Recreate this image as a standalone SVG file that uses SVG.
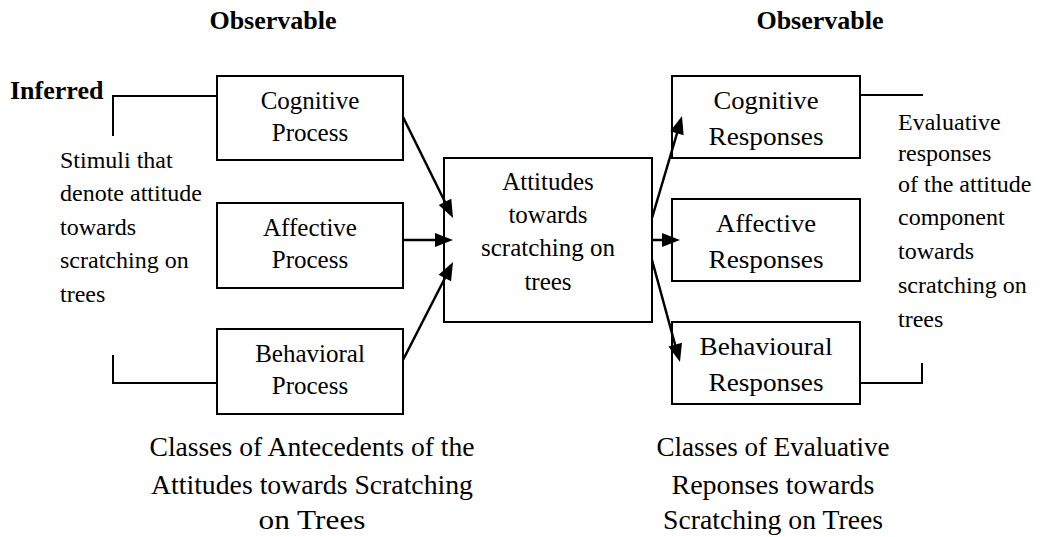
<svg xmlns="http://www.w3.org/2000/svg" width="1041" height="537" viewBox="0 0 1041 537">
<defs>
<style>
text{font-family:"Liberation Serif","Times New Roman",serif;fill:#000}
.b{font-weight:bold;font-size:26px}
.t{font-size:25px;text-anchor:middle}
.s{font-size:24px}
.c{font-size:27px;text-anchor:middle}
.box{fill:#fff;stroke:#000;stroke-width:2}
.ln{fill:none;stroke:#000;stroke-width:2}
.ar{fill:none;stroke:#000;stroke-width:2.5}
.hd{fill:#000;stroke:none}
</style>
</defs>
<rect x="0" y="0" width="1041" height="537" fill="#fff"/>

<text class="b" x="273" y="29" text-anchor="middle">Observable</text>
<text class="b" x="820" y="29" text-anchor="middle">Observable</text>
<text class="b" x="10" y="99">Inferred</text>

<g id="stimuli">
<text class="s" x="60" y="168">Stimuli that</text>
<text class="s" x="60" y="201">denote attitude</text>
<text class="s" x="60" y="235">towards</text>
<text class="s" x="60" y="268">scratching on</text>
<text class="s" x="60" y="302">trees</text>
</g>

<g id="cognitive-process">
<rect class="box" x="217" y="76" width="186" height="84"/>
<text class="t" x="310" y="109">Cognitive</text>
<text class="t" x="310" y="141">Process</text>
</g>
<g id="affective-process">
<rect class="box" x="217" y="203" width="186" height="85"/>
<text class="t" x="310" y="236">Affective</text>
<text class="t" x="310" y="268">Process</text>
</g>
<g id="behavioral-process">
<rect class="box" x="217" y="329" width="186" height="85"/>
<text class="t" x="310" y="362">Behavioral</text>
<text class="t" x="310" y="394">Process</text>
</g>

<g id="attitudes">
<rect class="box" x="444" y="158" width="208" height="164"/>
<text class="t" x="548" y="190">Attitudes</text>
<text class="t" x="548" y="223">towards</text>
<text class="t" x="548" y="256">scratching on</text>
<text class="t" x="548" y="290">trees</text>
</g>

<g id="cognitive-responses">
<rect class="box" x="672" y="76" width="188" height="82"/>
<text class="t" x="766" y="109" textLength="105" lengthAdjust="spacingAndGlyphs">Cognitive</text>
<text class="t" x="766" y="145" textLength="115" lengthAdjust="spacingAndGlyphs">Responses</text>
</g>
<g id="affective-responses">
<rect class="box" x="672" y="199" width="188" height="82"/>
<text class="t" x="766" y="232" textLength="100" lengthAdjust="spacingAndGlyphs">Affective</text>
<text class="t" x="766" y="268" textLength="115" lengthAdjust="spacingAndGlyphs">Responses</text>
</g>
<g id="behavioural-responses">
<rect class="box" x="672" y="322" width="188" height="82"/>
<text class="t" x="766" y="355" textLength="133" lengthAdjust="spacingAndGlyphs">Behavioural</text>
<text class="t" x="766" y="391" textLength="115" lengthAdjust="spacingAndGlyphs">Responses</text>
</g>

<g id="evaluative">
<text class="s" x="898" y="130">Evaluative</text>
<text class="s" x="898" y="161">responses</text>
<text class="s" x="898" y="192">of the attitude</text>
<text class="s" x="898" y="225">component</text>
<text class="s" x="898" y="259">towards</text>
<text class="s" x="898" y="293">scratching on</text>
<text class="s" x="898" y="327">trees</text>
</g>

<g id="antecedents-caption">
<text class="c" x="312" y="456" textLength="325" lengthAdjust="spacingAndGlyphs">Classes of Antecedents of the</text>
<text class="c" x="312" y="494" textLength="322" lengthAdjust="spacingAndGlyphs">Attitudes towards Scratching</text>
<text class="c" x="312" y="529" textLength="107" lengthAdjust="spacingAndGlyphs">on Trees</text>
</g>
<g id="responses-caption">
<text class="c" x="773" y="456" textLength="233" lengthAdjust="spacingAndGlyphs">Classes of Evaluative</text>
<text class="c" x="773" y="494" textLength="203" lengthAdjust="spacingAndGlyphs">Reponses towards</text>
<text class="c" x="773" y="529" textLength="220" lengthAdjust="spacingAndGlyphs">Scratching on Trees</text>
</g>

<g id="connectors">
<polyline class="ln" points="113,136 113,96 217,96"/>
<polyline class="ln" points="113,355 113,383 217,383"/>
<polyline class="ln" points="860,95 923,95"/>
<polyline class="ln" points="860,383 922,383 922,363"/>
<line class="ar" x1="403" y1="117" x2="446" y2="204"/>
<polygon class="hd" points="453,218 438.74,204.98 451.28,198.76"/>
<line class="ar" x1="403" y1="240" x2="440" y2="240"/>
<polygon class="hd" points="453,240 435,233 435,247"/>
<line class="ar" x1="403" y1="360" x2="446" y2="276"/>
<polygon class="hd" points="453,262 451.06,281.22 438.58,274.86"/>
<line class="ar" x1="652" y1="218" x2="678" y2="130"/>
<polygon class="hd" points="682,116 683.64,135.25 670.2,131.29"/>
<line class="ar" x1="652" y1="240" x2="668" y2="240"/>
<polygon class="hd" points="680,240 662,233 662,247"/>
<line class="ar" x1="652" y1="260" x2="676" y2="348"/>
<polygon class="hd" points="680,362 668.49,346.49 681.99,342.79"/>
</g>
</svg>
